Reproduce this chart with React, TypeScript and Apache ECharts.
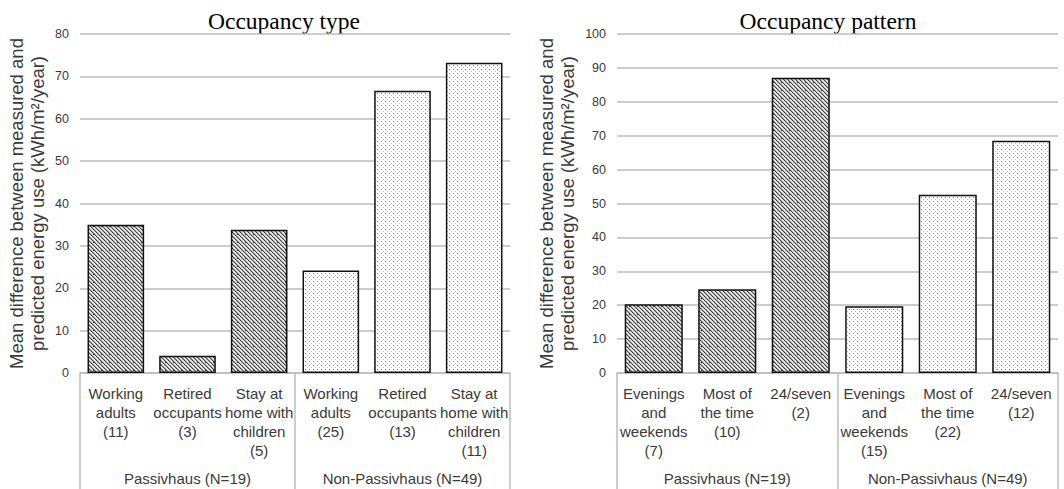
import React, { useEffect, useRef } from "react";
import * as echarts from "echarts";

const typeCategories = [
  "Working\nadults\n(11)",
  "Retired\noccupants\n(3)",
  "Stay at\nhome with\nchildren\n(5)",
  "Working\nadults\n(25)",
  "Retired\noccupants\n(13)",
  "Stay at\nhome with\nchildren\n(11)",
];
const typeValues = [35.0, 4.1, 33.8, 24.2, 66.6, 73.2];

const patternCategories = [
  "Evenings\nand\nweekends\n(7)",
  "Most of\nthe time\n(10)",
  "24/seven\n(2)",
  "Evenings\nand\nweekends\n(15)",
  "Most of\nthe time\n(22)",
  "24/seven\n(12)",
];
const patternValues = [20.3, 24.7, 87.1, 19.7, 52.6, 68.5];

const groups = ["Passivhaus (N=19)", "Non-Passivhaus (N=49)"];
const barGroup = [0, 0, 0, 1, 1, 1];

const titles = ["Occupancy type", "Occupancy pattern"];
const yName = "Mean difference between measured and\npredicted energy use (kWh/m\u00B2/year)";

const SANS = "'Liberation Sans', Arial, sans-serif";
const SERIF = "'Liberation Serif', 'Times New Roman', serif";
const GRID_GRAY = "#bdbdbd";
const TEXT_GRAY = "#3a3a3a";

function makeTile(kind: "hatch" | "dots") {
  const c = document.createElement("canvas");
  c.width = 8;
  c.height = 8;
  const ctx = c.getContext("2d")!;
  const img = ctx.createImageData(8, 8);
  for (let y = 0; y < 8; y++) {
    for (let x = 0; x < 8; x++) {
      let v = 255;
      if (kind === "hatch") {
        const d = (((x - y) % 4) + 4) % 4;
        v = 238;
        if (d === 0) v = 70;
        else if (d === 1) v = 165;
        else if (d === 3) v = 215;
        if (x === 5 && y === 2) v = 30;
      } else {
        if ((x % 4 === 1) && (y % 4 === 1)) v = 120;
        else if ((x % 4 === 3) && (y % 4 === 3)) v = 185;
      }
      const i = (y * 8 + x) * 4;
      img.data[i] = v;
      img.data[i + 1] = v;
      img.data[i + 2] = v;
      img.data[i + 3] = 255;
    }
  }
  ctx.putImageData(img, 0, 0);
  return { image: c, repeat: "repeat", imageWidth: 8, imageHeight: 8 } as any;
}

export default function App() {
  const ref = useRef<HTMLDivElement>(null);
  useEffect(() => {
    if (!ref.current) return;
    const chart = echarts.init(ref.current, undefined, { renderer: "svg" });
    const fills = [makeTile("hatch"), makeTile("dots")];

    const grids = [
      { left: 80, top: 34, width: 430, height: 339 },
      { left: 617, top: 34, width: 441, height: 339 },
    ];
    const cats = [typeCategories, patternCategories];
    const vals = [typeValues, patternValues];
    const maxes = [80, 100];
    const nameGaps = [32, 39];
    const titleX = [284, 828];

    const xAxis: any[] = [];
    const yAxis: any[] = [];
    const series: any[] = [];
    const graphic: any[] = [];

    for (let g = 0; g < 2; g++) {
      xAxis.push({
        gridIndex: g,
        type: "category",
        position: "bottom",
        data: cats[g],
        axisLine: { show: false },
        axisTick: { show: false },
        splitLine: { show: false },
        axisLabel: {
          interval: 0,
          margin: 11,
          fontSize: 15,
          lineHeight: 19,
          color: TEXT_GRAY,
          fontFamily: SANS,
        },
      });
      xAxis.push({
        gridIndex: g,
        type: "category",
        position: "bottom",
        data: groups,
        axisLine: { show: true, lineStyle: { color: GRID_GRAY, width: 1.5 } },
        axisTick: { show: true, length: 120, lineStyle: { color: GRID_GRAY, width: 1.5 } },
        splitLine: { show: false },
        axisLabel: {
          interval: 0,
          margin: 96,
          fontSize: 15,
          lineHeight: 19,
          color: TEXT_GRAY,
          fontFamily: SANS,
        },
      });
      yAxis.push({
        gridIndex: g,
        type: "value",
        min: 0,
        max: maxes[g],
        interval: 10,
        axisLine: { show: false },
        axisTick: { show: false },
        axisLabel: { margin: 11, fontSize: 12.5, color: TEXT_GRAY, fontFamily: SANS },
        splitLine: { lineStyle: { color: GRID_GRAY, width: 1.5 } },
        name: yName,
        nameLocation: "middle",
        nameGap: nameGaps[g],
        nameTextStyle: { fontSize: 18.5, lineHeight: 21, color: TEXT_GRAY, fontFamily: SANS },
      });
      series.push({
        type: "bar",
        xAxisIndex: g * 2,
        yAxisIndex: g,
        barCategoryGap: "21%",
        data: vals[g].map((v, i) => ({
          value: v,
          itemStyle: { color: fills[barGroup[i]], borderColor: "#111", borderWidth: 1.5 },
        })),
      });
      graphic.push({
        type: "text",
        x: titleX[g],
        y: 21,
        style: {
          text: titles[g],
          fontSize: 23.5,
          fontFamily: SERIF,
          fill: "#000",
          align: "center",
          verticalAlign: "middle",
        },
      });
    }

    chart.setOption({
      animation: false,
      backgroundColor: "#fff",
      grid: grids,
      xAxis,
      yAxis,
      series,
      graphic,
    });
    return () => chart.dispose();
  }, []);
  return (
    <div
      ref={ref}
      style={{ position: "fixed", left: 0, top: 0, width: 1064, height: 489 }}
    />
  );
}
